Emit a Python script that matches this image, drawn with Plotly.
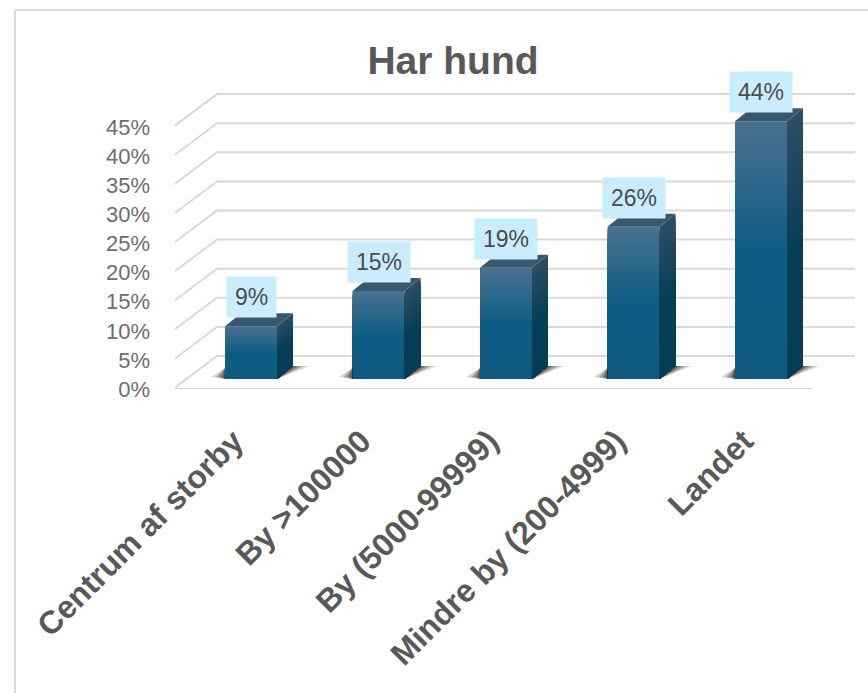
import plotly.graph_objects as go

categories = ["Centrum af storby", "By >100000", "By (5000-99999)", "Mindre by (200-4999)", "Landet"]
values = [9, 15, 19, 26, 44]
tick_values = [0, 5, 10, 15, 20, 25, 30, 35, 40, 45]
tick_labels = ["0%", "5%", "10%", "15%", "20%", "25%", "30%", "35%", "40%", "45%"]

W, H = 868, 693
PX_LEFT, PX_TOP, PX_AXIS, PX_BAR0 = 175, 60, 389, 379
PX_PER_CAT, PX_CAT0, PX_PER_VAL, PX_PER_TICK = 127.5, 251.0, 5.86, 5.82
X0 = (PX_LEFT - PX_CAT0) / PX_PER_CAT
X1 = (W - PX_CAT0) / PX_PER_CAT
xu = lambda px: px / PX_PER_CAT
yu = lambda px: px / PX_PER_VAL
HALF = xu(26)
DX, DY = xu(16), yu(13)
N = 40


def mix(a, b, t):
    return "rgb(%d,%d,%d)" % tuple(round(a[i] + (b[i] - a[i]) * t) for i in range(3))


def front_colour(f):
    top, mid, low = (72, 113, 144), (14, 93, 132), (14, 90, 128)
    return mix(mid, top, (f - .5) / .5) if f > .5 else mix(low, mid, f / .5)


def side_colour(f):
    top, mid, low = (44, 78, 100), (7, 62, 88), (7, 60, 84)
    return mix(mid, top, (f - .5) / .5) if f > .5 else mix(low, mid, f / .5)


fig = go.Figure()
idx = list(range(len(values)))

# soft floor shadows
for j, (ext, op) in enumerate([(xu(16), .2), (xu(10), .3), (xu(5), .4), (xu(1), .55)]):
    xs, ys = [], []
    for i in idx:
        r = i + HALF
        l = i - HALF
        xs += [r, r + DX, r + DX + ext, None, l, l, l - ext * .85, None]
        ys += [0, DY, DY, None, 0, DY * .85, yu(2), None]
    fig.add_trace(go.Scatter(x=xs, y=ys, yaxis="y2", mode="lines", line_width=0, fill="toself",
                             fillcolor=f"rgba(30,30,30,{op})", hoverinfo="skip", showlegend=False))

# front faces, tallest band first
for k in range(N, 0, -1):
    f = k / N
    fig.add_trace(go.Bar(x=idx, y=[v * f for v in values], yaxis="y2", width=2 * HALF,
                         marker=dict(color=front_colour(f), line_width=0),
                         hoverinfo="skip", showlegend=False))

# side faces
for k in range(N, 0, -1):
    f = k / N
    xs, ys = [], []
    for i, v in zip(idx, values):
        r = i + HALF
        xs += [r, r + DX, r + DX, r, None]
        ys += [0, DY, v * f + DY, v * f, None]
    fig.add_trace(go.Scatter(x=xs, y=ys, yaxis="y2", mode="lines", line_width=0, fill="toself",
                             fillcolor=side_colour(f), hoverinfo="skip", showlegend=False))

# top faces
xs, ys = [], []
for i, v in zip(idx, values):
    xs += [i - HALF, i + HALF, i + HALF + DX, i - HALF + DX, None]
    ys += [v, v, v + DY, v + DY, None]
fig.add_trace(go.Scatter(x=xs, y=ys, yaxis="y2", mode="lines", line_width=0, fill="toself",
                         fillcolor="#38586f", hoverinfo="skip", showlegend=False))

GRID = dict(color="#d9d9d9", width=2)
BACK_DX = xu(217 - 173)
BACK_DY = 33 / PX_PER_TICK
FRONT_X = (173 - PX_CAT0) / PX_PER_CAT
BACK_END = (855 - PX_CAT0) / PX_PER_CAT
FRONT_END = (812 - PX_CAT0) / PX_PER_CAT
shapes = []
for t in tick_values:
    shapes.append(dict(type="path", layer="below", xref="x", yref="y", line=GRID,
                       path=f"M {FRONT_X} {t} L {FRONT_X + BACK_DX} {t + BACK_DY} L {BACK_END} {t + BACK_DY}"))
shapes.append(dict(type="line", layer="below", xref="x", yref="y", line=GRID,
                   x0=FRONT_X, x1=FRONT_END, y0=0, y1=0))
# chart frame
frame = dict(color="#d9d9d9", width=2)
shapes.append(dict(type="line", xref="paper", yref="paper", x0=15 / W, x1=1, y0=1 - 10 / H, y1=1 - 10 / H, line=frame))
shapes.append(dict(type="line", xref="paper", yref="paper", x0=15 / W, x1=15 / W, y0=0, y1=1 - 10 / H, line=frame))

annotations = []
for i, v in zip(idx, values):
    annotations.append(dict(x=i, y=v, xref="x", yref="y2", yanchor="bottom", yshift=8, showarrow=False,
                            text=f"{v}%", font=dict(family="Liberation Sans", size=23, color="#4c4c4c"),
                            bgcolor="#c9edfc", width=(51 if v < 10 else 64) - 2, height=40, align="center",
                            borderpad=0))

fig.update_layout(
    width=W, height=H, margin=dict(l=0, r=0, t=0, b=0, autoexpand=False), barmode="overlay",
    paper_bgcolor="white", plot_bgcolor="rgba(0,0,0,0)", showlegend=False,
    title=dict(text="<b>Har hund</b>", x=453 / W, xanchor="center", y=1 - 60 / H, yanchor="middle",
               font=dict(family="Liberation Sans", size=39, color="#595959")),
    shapes=shapes, annotations=annotations,
    xaxis=dict(domain=[PX_LEFT / W, 1], range=[X0, X1], tickmode="array", tickvals=idx, ticktext=categories,
               tickangle=-45, showgrid=False, zeroline=False, showline=False, ticks="", ticklabelstandoff=26,
               automargin=False, ticklabelshift=-17,
               tickfont=dict(family="Liberation Sans", size=32, color="#595959", weight="bold")),
    yaxis=dict(domain=[(H - PX_AXIS) / H, (H - PX_TOP) / H], range=[0, (PX_AXIS - PX_TOP) / PX_PER_TICK],
               tickmode="array", tickvals=tick_values, ticktext=tick_labels, showgrid=False, zeroline=False,
               showline=False, ticks="", ticklabelstandoff=24, automargin=False,
               tickfont=dict(family="Liberation Sans", size=22, color="#6e6e6e")),
    yaxis2=dict(domain=[(H - PX_AXIS) / H, (H - PX_TOP) / H], overlaying="y", anchor="x",
                range=[-(PX_AXIS - PX_BAR0) / PX_PER_VAL, (PX_BAR0 - PX_TOP) / PX_PER_VAL],
                visible=False, automargin=False),
)

fig.write_html("out.html", config={"displayModeBar": False},
               post_script="document.body.style.margin='0';")
